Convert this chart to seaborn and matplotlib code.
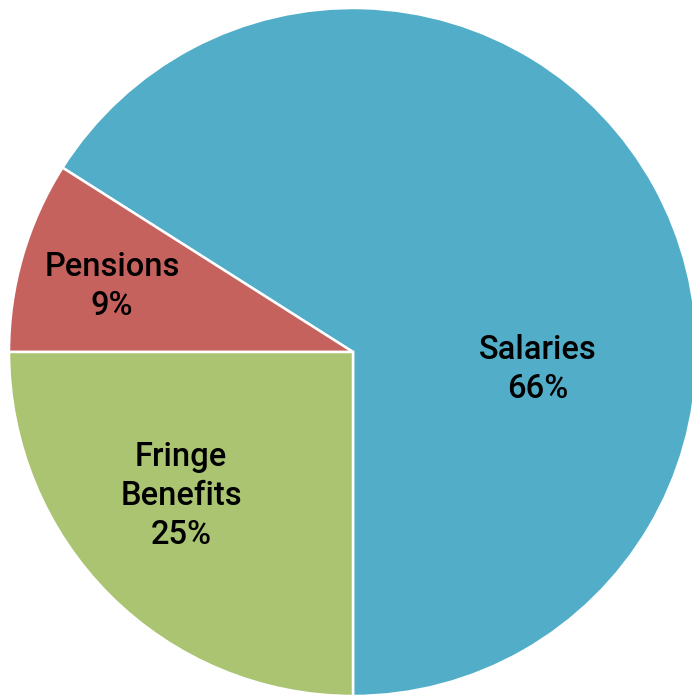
import matplotlib
matplotlib.use("Agg")
import matplotlib.pyplot as plt
import seaborn as sns

sns.set_theme(style="white")
plt.rcParams["font.family"] = ["Roboto", "DejaVu Sans"]

categories = ["Salaries", "Pensions", "Fringe\nBenefits"]
shares = [66, 9, 25]
colors = ["#52AEC8", "#C6625E", "#AAC472"]
# label anchor points in pie units (radius = 1)
label_pos = [(0.536, -0.05), (-0.70, 0.19), (-0.50, -0.42)]

W, H, DPI = 692, 697, 100
fig = plt.figure(figsize=(W / DPI, H / DPI), dpi=DPI)
ax = fig.add_axes([0, 0, 1, 1])

cx, cy, r = 353, 352, 344  # pie centre and radius in pixels
ax.pie(shares, colors=colors, startangle=-90, counterclock=True,
       wedgeprops=dict(edgecolor="white", linewidth=1.8))
ax.set_xlim(-cx / r, (W - cx) / r)
ax.set_ylim(-(H - cy) / r, cy / r)
ax.set_aspect("equal")
ax.axis("off")

for name, val, (x, y) in zip(categories, shares, label_pos):
    ax.text(x, y, f"{name}\n{val}%", ha="center", va="center",
            fontsize=23.5, fontweight="medium", color="black", linespacing=1.28)

fig.savefig("out.png", dpi=DPI, facecolor="white")
